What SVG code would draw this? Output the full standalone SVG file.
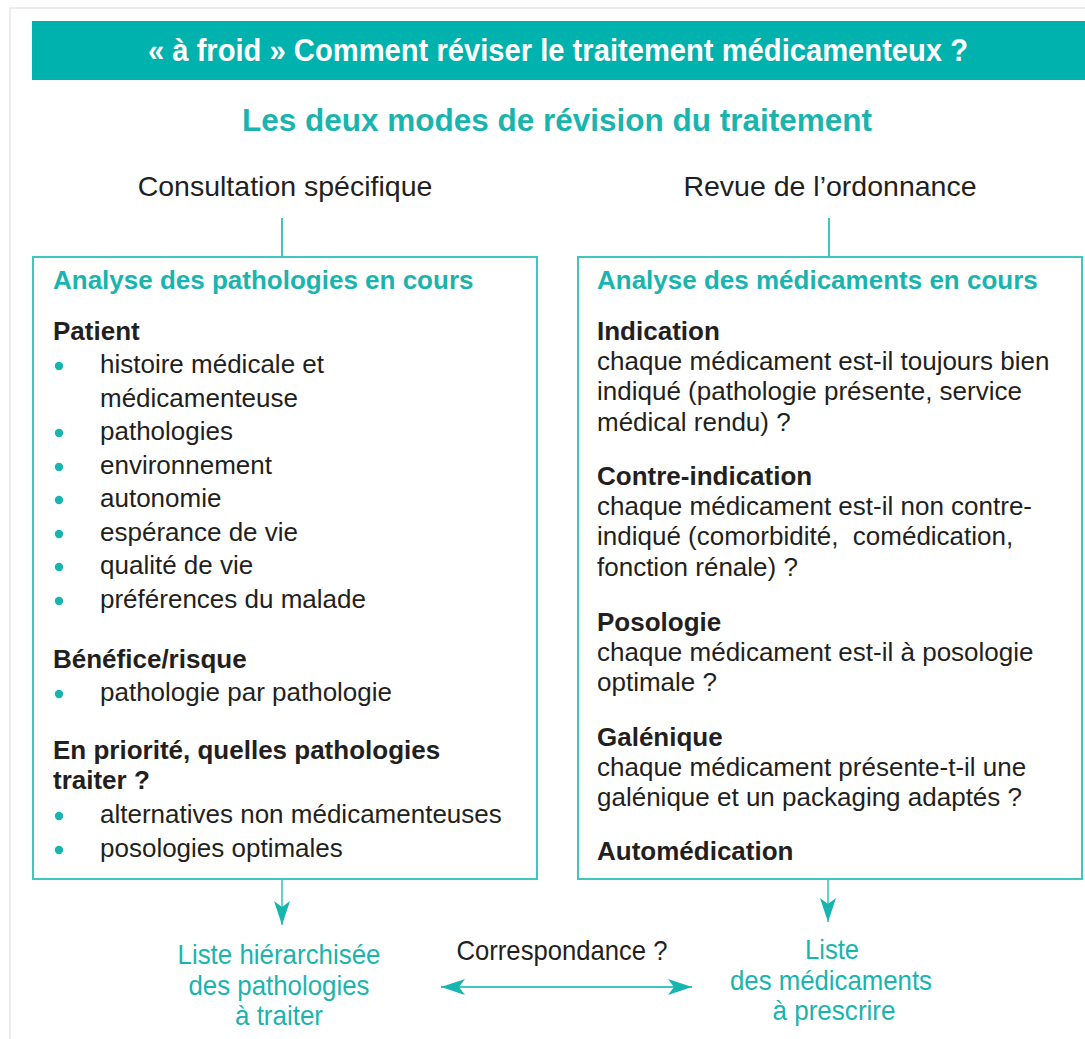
<svg xmlns="http://www.w3.org/2000/svg" width="1085" height="1039" viewBox="0 0 1085 1039">
<style>
text{font-family:"Liberation Sans",Arial,sans-serif;}
.body{font-size:26px;fill:#231f20;}
.b{font-weight:bold;}
.teal{fill:#1ab4af;}
.box{fill:none;stroke:#3ec6c1;stroke-width:2;}
.ln{stroke:#3ec6c1;stroke-width:2;fill:none;}
.bul{fill:#1ab4af;}
.cond{font-size:28px;}
</style>
<defs>
<marker id="ah" viewBox="0 0 24 16" refX="24" refY="8" markerWidth="24" markerHeight="16" markerUnits="userSpaceOnUse" orient="auto-start-reverse">
<path d="M0,0 L24,8 L0,16 L6,8 Z" fill="#17b5b0"/>
</marker>
</defs>
<rect width="1085" height="1039" fill="#fff"/>
<path d="M10,1039 V8 H1085" fill="none" stroke="#ececec" stroke-width="2"/>

<g id="header">
<rect x="32" y="21" width="1053" height="59" fill="#00b2ae"/>
<text x="558" y="61" text-anchor="middle" font-size="32" font-weight="bold" fill="#fff" textLength="820" lengthAdjust="spacingAndGlyphs">« à froid » Comment réviser le traitement médicamenteux ?</text>
</g>

<g id="title">
<text x="557" y="131" text-anchor="middle" font-size="31.5" font-weight="bold" class="teal">Les deux modes de révision du traitement</text>
</g>

<g id="consultation">
<text x="285" y="196" text-anchor="middle" font-size="28.5" fill="#231f20">Consultation spécifique</text>
</g>
<g id="revue">
<text x="830" y="196" text-anchor="middle" font-size="28.5" fill="#231f20">Revue de l’ordonnance</text>
</g>

<g id="box-pathologies">
<rect class="box" x="33" y="257" width="504" height="622"/>
<text x="53" y="289" class="body b teal">Analyse des pathologies en cours</text>
<text x="53" y="340" class="body b">Patient</text>
<g class="bul">
<circle cx="59" cy="366" r="4.2"/>
<circle cx="59" cy="433" r="4.2"/>
<circle cx="59" cy="467" r="4.2"/>
<circle cx="59" cy="500" r="4.2"/>
<circle cx="59" cy="534" r="4.2"/>
<circle cx="59" cy="567" r="4.2"/>
<circle cx="59" cy="601" r="4.2"/>
<circle cx="59" cy="694" r="4.2"/>
<circle cx="59" cy="816" r="4.2"/>
<circle cx="59" cy="850" r="4.2"/>
</g>
<text x="100" y="373" class="body">histoire médicale et</text>
<text x="100" y="407" class="body">médicamenteuse</text>
<text x="100" y="440" class="body">pathologies</text>
<text x="100" y="474" class="body">environnement</text>
<text x="100" y="507" class="body">autonomie</text>
<text x="100" y="541" class="body">espérance de vie</text>
<text x="100" y="574" class="body">qualité de vie</text>
<text x="100" y="608" class="body">préférences du malade</text>
<text x="53" y="668" class="body b">Bénéfice/risque</text>
<text x="100" y="701" class="body">pathologie par pathologie</text>
<text x="53" y="759" class="body b">En priorité, quelles pathologies</text>
<text x="53" y="789" class="body b">traiter ?</text>
<text x="100" y="823" class="body">alternatives non médicamenteuses</text>
<text x="100" y="857" class="body">posologies optimales</text>
</g>

<g id="box-medicaments">
<rect class="box" x="578" y="257" width="504" height="622"/>
<text x="597" y="289" class="body b teal">Analyse des médicaments en cours</text>
<text x="597" y="340" class="body b">Indication</text>
<text x="597" y="370" class="body">chaque médicament est-il toujours bien</text>
<text x="597" y="400" class="body">indiqué (pathologie présente, service</text>
<text x="597" y="431" class="body">médical rendu) ?</text>
<text x="597" y="485" class="body b">Contre-indication</text>
<text x="597" y="515" class="body">chaque médicament est-il non contre-</text>
<text x="597" y="545" class="body" xml:space="preserve">indiqué (comorbidité,  comédication,</text>
<text x="597" y="576" class="body">fonction rénale) ?</text>
<text x="597" y="631" class="body b">Posologie</text>
<text x="597" y="661" class="body">chaque médicament est-il à posologie</text>
<text x="597" y="691" class="body">optimale ?</text>
<text x="597" y="746" class="body b">Galénique</text>
<text x="597" y="776" class="body">chaque médicament présente-t-il une</text>
<text x="597" y="806" class="body">galénique et un packaging adaptés ?</text>
<text x="597" y="860" class="body b">Automédication</text>
</g>

<g id="liste-pathologies">
<text x="279" y="964" text-anchor="middle" class="cond teal" textLength="203" lengthAdjust="spacingAndGlyphs">Liste hiérarchisée</text>
<text x="279" y="995" text-anchor="middle" class="cond teal" textLength="181" lengthAdjust="spacingAndGlyphs">des pathologies</text>
<text x="279" y="1025" text-anchor="middle" class="cond teal" textLength="88" lengthAdjust="spacingAndGlyphs">à traiter</text>
</g>
<g id="liste-medicaments">
<text x="832" y="959" text-anchor="middle" class="cond teal" textLength="54" lengthAdjust="spacingAndGlyphs">Liste</text>
<text x="831" y="990" text-anchor="middle" class="cond teal" textLength="202" lengthAdjust="spacingAndGlyphs">des médicaments</text>
<text x="834" y="1020" text-anchor="middle" class="cond teal" textLength="123" lengthAdjust="spacingAndGlyphs">à prescrire</text>
</g>
<g id="correspondance">
<text x="562" y="960" text-anchor="middle" class="cond" fill="#231f20" textLength="211" lengthAdjust="spacingAndGlyphs">Correspondance ?</text>
</g>

<g id="connectors">
<line class="ln" x1="282" y1="218" x2="282" y2="257"/>
<line class="ln" x1="829" y1="218" x2="829" y2="257"/>
<line class="ln" x1="282" y1="879" x2="282" y2="925" marker-end="url(#ah)" style="stroke-width:1.6"/>
<line class="ln" x1="828" y1="879" x2="828" y2="922" marker-end="url(#ah)" style="stroke-width:1.6"/>
<line class="ln" x1="441" y1="987" x2="692" y2="987" marker-start="url(#ah)" marker-end="url(#ah)"/>
</g>
</svg>
